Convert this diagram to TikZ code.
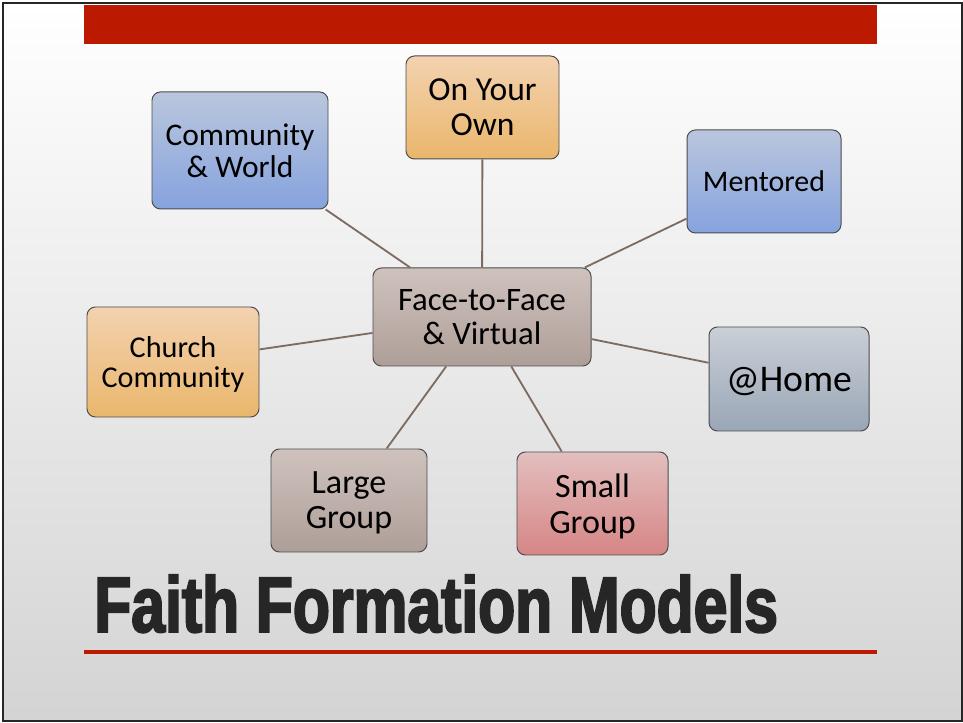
\documentclass[tikz,border=0pt]{standalone}
\usepackage{fontspec}
\setmainfont{Carlito}
\newfontfamily\titlefont{Liberation Sans}[FakeStretch=0.77, FakeBold=2.5]
\usepackage{tikz}
\definecolor{barRed}{HTML}{BB1A00}
\definecolor{linkBrown}{HTML}{7D6B61}
\definecolor{blueTop}{HTML}{BAC6DD}
\definecolor{blueBot}{HTML}{86A3DE}
\definecolor{orangeTop}{HTML}{F3D2B0}
\definecolor{orangeBot}{HTML}{EAB66C}
\definecolor{taupeTop}{HTML}{CFC2BD}
\definecolor{taupeBot}{HTML}{AE9E98}
\definecolor{slateTop}{HTML}{CACFD7}
\definecolor{slateBot}{HTML}{99A6B6}
\definecolor{roseTop}{HTML}{E3BFBF}
\definecolor{roseBot}{HTML}{D68585}
\definecolor{titleGray}{HTML}{262626}
\tikzstyle{model}=[rectangle, rounded corners=6pt, draw=black!70, line width=0.7pt, align=center, inner sep=2pt, text depth=0pt]
\tikzstyle{mBlue}=[top color=blueTop, bottom color=blueBot]
\tikzstyle{mOrange}=[top color=orangeTop, bottom color=orangeBot]
\tikzstyle{mTaupe}=[top color=taupeTop, bottom color=taupeBot]
\tikzstyle{mSlate}=[top color=slateTop, bottom color=slateBot]
\tikzstyle{mRose}=[top color=roseTop, bottom color=roseBot]
\tikzstyle{link}=[draw=linkBrown, line width=1.3pt]

\begin{document}
\begin{tikzpicture}
	\useasboundingbox (0,0) rectangle (24.075,18.075);
	\fill[white] (0,0) rectangle (24.075,18.075);
	\shade[top color=white, bottom color=black!17] (0.075,0.05) rectangle (24.05,18.0);
	\draw[black!85, line width=1.2pt] (0.075,0.05) rectangle (24.05,18.0);
	\fill[barRed] (2.1,16.975) rectangle (21.925,17.95);
	% hub and the seven models
	\draw (12.05,10.15) node[model, mTaupe, minimum width=5.45cm, minimum height=2.45cm, font=\fontsize{23.3}{24.2}\selectfont] (face) {Face-to-Face\\\& Virtual};
	\draw (6.0,14.3125) node[model, mBlue, minimum width=4.4cm, minimum height=2.925cm, font=\fontsize{22.4}{22.8}\selectfont] (world) {Community\\\& World};
	\draw (12.0625,15.3875) node[model, mOrange, minimum width=3.825cm, minimum height=2.575cm, font=\fontsize{23.9}{25}\selectfont] (own) {On Your\\Own};
	\draw (19.1,13.5375) node[model, mBlue, minimum width=3.85cm, minimum height=2.575cm, font=\fontsize{21.3}{22}\selectfont] (mentored) {Mentored};
	\draw (4.325,9.025) node[model, mOrange, minimum width=4.3cm, minimum height=2.75cm, font=\fontsize{21.5}{22}\selectfont] (church) {Church\\Community};
	\draw (19.725,8.6) node[model, mSlate, minimum width=4.0cm, minimum height=2.6cm, font=\fontsize{26.8}{28}\selectfont] (home) {@Home};
	\draw (8.725,5.5625) node[model, mTaupe, minimum width=3.9cm, minimum height=2.575cm, font=\fontsize{24.2}{25}\selectfont] (large) {Large\\Group};
	\draw (14.8125,5.4875) node[model, mRose, minimum width=3.775cm, minimum height=2.575cm, font=\fontsize{24.2}{25.5}\selectfont] (small) {Small\\Group};
	\draw[link] (face) -- (world);
	\draw[link] (face) -- (own);
	\draw[link] (face) -- (mentored);
	\draw[link] (face) -- (church);
	\draw[link] (face) -- (home);
	\draw[link] (face) -- (large);
	\draw[link] (face) -- (small);
	% title and rule
	\node[anchor=base west, inner sep=0pt, text=titleGray, font=\titlefont\bfseries\fontsize{56}{60}\selectfont] (title) at (2.35,2.275) {Faith Formation Models};
	\draw[barRed, line width=2.2pt] (2.1,1.775) -- (21.925,1.775);
\end{tikzpicture}
\end{document}
